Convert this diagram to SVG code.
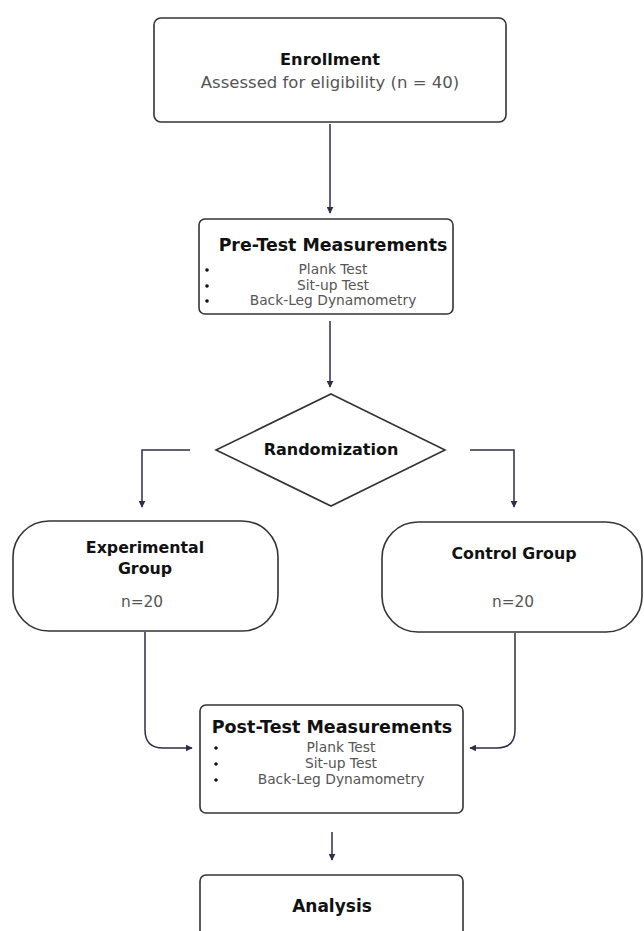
<svg xmlns="http://www.w3.org/2000/svg" width="644" height="931" viewBox="0 0 644 931">
<defs>
<marker id="arr" viewBox="0 0 10 10" refX="9" refY="5" markerWidth="7" markerHeight="7" markerUnits="userSpaceOnUse" orient="auto">
<path d="M0,0 L10,5 L0,10 z" fill="#2e2e48"/>
</marker>
<style>
.box{fill:#fff;stroke:#333;stroke-width:1.6}
.conn{fill:none;stroke:#2e2e48;stroke-width:1.5}
.b{font-family:"DejaVu Sans",sans-serif;font-weight:bold;fill:#111;text-anchor:middle}
.r{font-family:"DejaVu Sans",sans-serif;fill:#555;text-anchor:middle}
.dot{fill:#111}
</style>
</defs>
<rect width="644" height="931" fill="#fff"/>
<g id="connectors">
<path class="conn" d="M330,124 V213" marker-end="url(#arr)"/>
<path class="conn" d="M330,321 V387" marker-end="url(#arr)"/>
<path class="conn" d="M190,450 H142 V507" marker-end="url(#arr)"/>
<path class="conn" d="M470,450 H514 V507" marker-end="url(#arr)"/>
<path class="conn" d="M145,632 V730 Q145,748 163,748 H192" marker-end="url(#arr)"/>
<path class="conn" d="M515,633 V730 Q515,748 497,748 H470" marker-end="url(#arr)"/>
<path class="conn" d="M332,832 V860" marker-end="url(#arr)"/>
</g>
<g id="enrollment">
<rect class="box" x="154" y="18" width="352" height="104" rx="7"/>
<text class="b" x="330" y="65" font-size="16.2">Enrollment</text>
<text class="r" x="330" y="88" font-size="16.5">Assessed for eligibility (n = 40)</text>
</g>
<g id="pretest">
<rect class="box" x="199" y="219" width="254" height="95" rx="6"/>
<text class="b" x="333" y="251" font-size="17.4">Pre-Test Measurements</text>
<circle class="dot" cx="207" cy="270" r="1.8"/>
<circle class="dot" cx="207" cy="286" r="1.8"/>
<circle class="dot" cx="207" cy="301" r="1.8"/>
<text class="r" x="333" y="274" font-size="13.8">Plank Test</text>
<text class="r" x="333" y="290" font-size="13.8">Sit-up Test</text>
<text class="r" x="333" y="305" font-size="13.8">Back-Leg Dynamometry</text>
</g>
<g id="randomization">
<polygon class="box" points="331,394 445,450 331,506 216,450"/>
<text class="b" x="331" y="455" font-size="16">Randomization</text>
</g>
<g id="experimental">
<rect class="box" x="13" y="521" width="265" height="110" rx="36"/>
<text class="b" x="145" y="553" font-size="15.8">Experimental</text>
<text class="b" x="145" y="574" font-size="15.8">Group</text>
<text class="r" x="142" y="607" font-size="15.4">n=20</text>
</g>
<g id="control">
<rect class="box" x="382" y="522" width="260" height="110" rx="36"/>
<text class="b" x="514" y="559" font-size="15.8">Control Group</text>
<text class="r" x="513" y="607" font-size="15.4">n=20</text>
</g>
<g id="posttest">
<rect class="box" x="200" y="705" width="263" height="108" rx="6"/>
<text class="b" x="332" y="733" font-size="17.5">Post-Test Measurements</text>
<circle class="dot" cx="216" cy="748" r="1.8"/>
<circle class="dot" cx="216" cy="764" r="1.8"/>
<circle class="dot" cx="216" cy="780" r="1.8"/>
<text class="r" x="341" y="752" font-size="13.8">Plank Test</text>
<text class="r" x="341" y="768" font-size="13.8">Sit-up Test</text>
<text class="r" x="341" y="784" font-size="13.8">Back-Leg Dynamometry</text>
</g>
<g id="analysis">
<rect class="box" x="200" y="875" width="263" height="80" rx="6"/>
<text class="b" x="332" y="912" font-size="17">Analysis</text>
</g>
</svg>
